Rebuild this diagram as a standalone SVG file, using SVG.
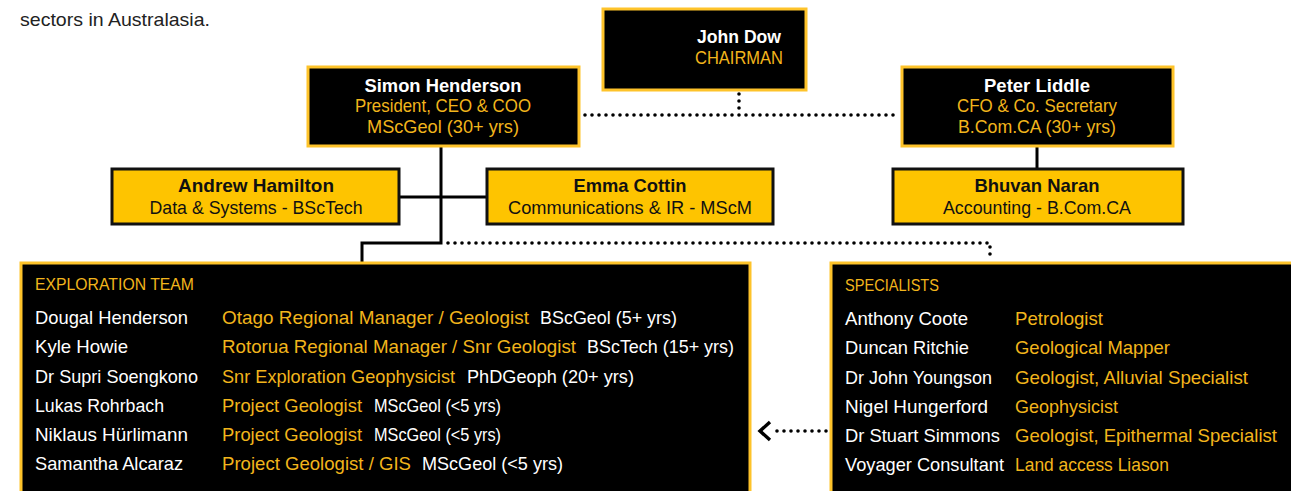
<svg xmlns="http://www.w3.org/2000/svg" width="1291" height="491" viewBox="0 0 1291 491">
<style>
text{font-family:"Liberation Sans",Arial,sans-serif;font-size:19px}
.b{font-weight:bold}
.w{fill:#ffffff}
.k{fill:#111111}
.y{fill:#f2b51c}
.m{text-anchor:middle}
.dark{fill:#000000;stroke:#fec32a;stroke-width:3}
.gold{fill:#fec400;stroke:#111111;stroke-width:3}
.solid{fill:none;stroke:#000000;stroke-width:3}
.dot{fill:none;stroke:#000000;stroke-width:3.6;stroke-linecap:round;stroke-dasharray:0 7}
.hd{font-size:17px}
</style>
<text x="20" y="26" fill="#222" textLength="190" lengthAdjust="spacingAndGlyphs">sectors in Australasia.</text>

<g id="connectors">
<polyline class="solid" points="441,146 441,243 362,243 362,262"/>
<line class="solid" x1="399" y1="197" x2="487" y2="197"/>
<line class="solid" x1="1037" y1="146" x2="1037" y2="169"/>
<polyline class="dot" points="448,243 990,243 990,256"/>
<line class="dot" x1="739" y1="94" x2="739" y2="114"/>
<line class="dot" x1="585" y1="115" x2="900" y2="115"/>
<line class="dot" x1="826" y1="431" x2="773" y2="431"/>
<polyline class="solid" style="stroke-width:3.4" points="770,422 760,431 770,440"/>
</g>

<g id="john-dow">
<rect class="dark" x="603" y="9" width="203" height="81"/>
<text class="b w m" x="739" y="43" textLength="84" lengthAdjust="spacingAndGlyphs">John Dow</text>
<text class="y m" x="739" y="64" textLength="88" lengthAdjust="spacingAndGlyphs">CHAIRMAN</text>
</g>

<g id="simon-henderson">
<rect class="dark" x="308" y="67" width="271" height="79"/>
<text class="b w m" x="443" y="92" textLength="157" lengthAdjust="spacingAndGlyphs">Simon Henderson</text>
<text class="y m" x="443" y="112" textLength="176" lengthAdjust="spacingAndGlyphs">President, CEO &amp; COO</text>
<text class="y m" x="443" y="133" textLength="152" lengthAdjust="spacingAndGlyphs">MScGeol (30+ yrs)</text>
</g>

<g id="peter-liddle">
<rect class="dark" x="902" y="67" width="271" height="79"/>
<text class="b w m" x="1037" y="92" textLength="106" lengthAdjust="spacingAndGlyphs">Peter Liddle</text>
<text class="y m" x="1037" y="112" textLength="160" lengthAdjust="spacingAndGlyphs">CFO &amp; Co. Secretary</text>
<text class="y m" x="1037" y="133" textLength="158" lengthAdjust="spacingAndGlyphs">B.Com.CA (30+ yrs)</text>
</g>

<g id="andrew-hamilton">
<rect class="gold" x="112" y="169" width="287" height="55"/>
<text class="b k m" x="256" y="192" textLength="156" lengthAdjust="spacingAndGlyphs">Andrew Hamilton</text>
<text class="k m" x="256" y="214" textLength="213" lengthAdjust="spacingAndGlyphs">Data &amp; Systems - BScTech</text>
</g>

<g id="emma-cottin">
<rect class="gold" x="487" y="169" width="286" height="55"/>
<text class="b k m" x="630" y="192" textLength="113" lengthAdjust="spacingAndGlyphs">Emma Cottin</text>
<text class="k m" x="630" y="214" textLength="244" lengthAdjust="spacingAndGlyphs">Communications &amp; IR - MScM</text>
</g>

<g id="bhuvan-naran">
<rect class="gold" x="893" y="169" width="290" height="55"/>
<text class="b k m" x="1037" y="192" textLength="125" lengthAdjust="spacingAndGlyphs">Bhuvan Naran</text>
<text class="k m" x="1037" y="214" textLength="188" lengthAdjust="spacingAndGlyphs">Accounting - B.Com.CA</text>
</g>

<g id="exploration-team">
<rect class="dark" x="21" y="263" width="729" height="240"/>
<text class="y hd" x="35" y="290" textLength="159" lengthAdjust="spacingAndGlyphs">EXPLORATION TEAM</text>
<text class="w" x="35" y="324" textLength="153" lengthAdjust="spacingAndGlyphs">Dougal Henderson</text>
<text class="y" x="222" y="324" textLength="307" lengthAdjust="spacingAndGlyphs">Otago Regional Manager / Geologist</text>
<text class="w" x="540" y="324" textLength="137" lengthAdjust="spacingAndGlyphs">BScGeol (5+ yrs)</text>
<text class="w" x="35" y="353" textLength="93" lengthAdjust="spacingAndGlyphs">Kyle Howie</text>
<text class="y" x="222" y="353" textLength="354" lengthAdjust="spacingAndGlyphs">Rotorua Regional Manager / Snr Geologist</text>
<text class="w" x="587" y="353" textLength="147" lengthAdjust="spacingAndGlyphs">BScTech (15+ yrs)</text>
<text class="w" x="35" y="383" textLength="163" lengthAdjust="spacingAndGlyphs">Dr Supri Soengkono</text>
<text class="y" x="222" y="383" textLength="233" lengthAdjust="spacingAndGlyphs">Snr Exploration Geophysicist</text>
<text class="w" x="467" y="383" textLength="167" lengthAdjust="spacingAndGlyphs">PhDGeoph (20+ yrs)</text>
<text class="w" x="35" y="412" textLength="129" lengthAdjust="spacingAndGlyphs">Lukas Rohrbach</text>
<text class="y" x="222" y="412" textLength="140" lengthAdjust="spacingAndGlyphs">Project Geologist</text>
<text class="w" x="374" y="412" textLength="127" lengthAdjust="spacingAndGlyphs">MScGeol (&lt;5 yrs)</text>
<text class="w" x="35" y="441" textLength="153" lengthAdjust="spacingAndGlyphs">Niklaus Hürlimann</text>
<text class="y" x="222" y="441" textLength="140" lengthAdjust="spacingAndGlyphs">Project Geologist</text>
<text class="w" x="374" y="441" textLength="127" lengthAdjust="spacingAndGlyphs">MScGeol (&lt;5 yrs)</text>
<text class="w" x="35" y="470" textLength="148" lengthAdjust="spacingAndGlyphs">Samantha Alcaraz</text>
<text class="y" x="222" y="470" textLength="189" lengthAdjust="spacingAndGlyphs">Project Geologist / GIS</text>
<text class="w" x="422" y="470" textLength="141" lengthAdjust="spacingAndGlyphs">MScGeol (&lt;5 yrs)</text>
</g>

<g id="specialists">
<rect class="dark" x="831" y="263" width="480" height="240"/>
<text class="y hd" x="845" y="291" textLength="94" lengthAdjust="spacingAndGlyphs">SPECIALISTS</text>
<text class="w" x="845" y="325" textLength="123" lengthAdjust="spacingAndGlyphs">Anthony Coote</text>
<text class="y" x="1015" y="325" textLength="88" lengthAdjust="spacingAndGlyphs">Petrologist</text>
<text class="w" x="845" y="354" textLength="124" lengthAdjust="spacingAndGlyphs">Duncan Ritchie</text>
<text class="y" x="1015" y="354" textLength="155" lengthAdjust="spacingAndGlyphs">Geological Mapper</text>
<text class="w" x="845" y="384" textLength="147" lengthAdjust="spacingAndGlyphs">Dr John Youngson</text>
<text class="y" x="1015" y="384" textLength="233" lengthAdjust="spacingAndGlyphs">Geologist, Alluvial Specialist</text>
<text class="w" x="845" y="413" textLength="143" lengthAdjust="spacingAndGlyphs">Nigel Hungerford</text>
<text class="y" x="1015" y="413" textLength="103" lengthAdjust="spacingAndGlyphs">Geophysicist</text>
<text class="w" x="845" y="442" textLength="155" lengthAdjust="spacingAndGlyphs">Dr Stuart Simmons</text>
<text class="y" x="1015" y="442" textLength="262" lengthAdjust="spacingAndGlyphs">Geologist, Epithermal Specialist</text>
<text class="w" x="845" y="471" textLength="159" lengthAdjust="spacingAndGlyphs">Voyager Consultant</text>
<text class="y" x="1015" y="471" textLength="154" lengthAdjust="spacingAndGlyphs">Land access Liason</text>
</g>
</svg>
